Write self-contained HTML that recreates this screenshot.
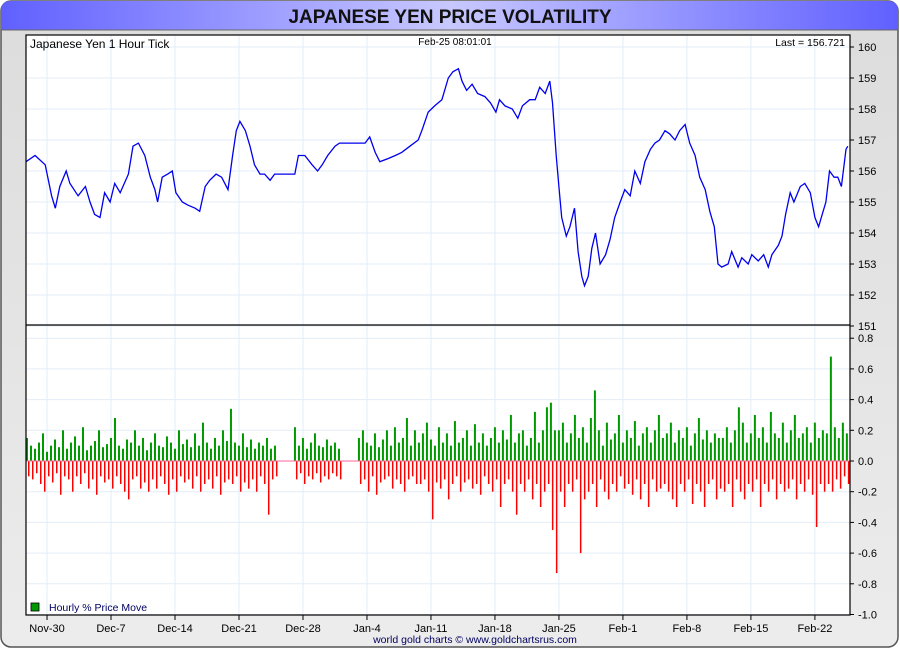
<!DOCTYPE html>
<html><head><meta charset="utf-8"><style>
body{margin:0;background:#fff;width:900px;height:650px;overflow:hidden}
svg text{font-family:"Liberation Sans",sans-serif}
</style></head><body>
<svg id="c" width="900" height="650">
<defs>
<linearGradient id="tg" x1="0" x2="1"><stop offset="0" stop-color="#6060ff"/><stop offset="0.5" stop-color="#c8c8ff"/><stop offset="1" stop-color="#6060ff"/></linearGradient>
<linearGradient id="bg" x1="0" y1="0" x2="0" y2="1"><stop offset="0" stop-color="#dcdcdc"/><stop offset="1" stop-color="#ececec"/></linearGradient>
</defs>
<rect x="1" y="1" width="897" height="646" rx="10" fill="url(#bg)" stroke="#555" stroke-width="1.5"/>
<path d="M1 30 V11 Q1 1 11 1 H888 Q898 1 898 11 V30 Z" fill="url(#tg)"/>
<line x1="1" y1="30" x2="898" y2="30" stroke="#666"/>
<text x="450" y="23" text-anchor="middle" font-size="19" font-weight="bold" fill="#111">JAPANESE YEN PRICE VOLATILITY</text>
<rect x="26" y="35" width="824" height="580" fill="#fff"/>
<g id="grid"></g><g id="bars"></g><g id="line"></g><g id="axes"></g>
<rect x="26" y="35" width="824" height="580" fill="none" stroke="#000" stroke-width="1.2"/>
<line x1="26" y1="325" x2="850" y2="325" stroke="#000" stroke-width="1.2"/>
<text x="30" y="48" font-size="12" fill="#000">Japanese Yen 1 Hour Tick</text>
<text x="455" y="45" font-size="10" text-anchor="middle" fill="#000">Feb-25  08:01:01</text>
<text x="845" y="46" font-size="10.5" text-anchor="end" fill="#000">Last = 156.721</text>
<rect x="31" y="603" width="8" height="8" fill="#009900" stroke="#000" stroke-width="0.8"/>
<text x="49" y="611" font-size="10.5" fill="#000060">Hourly % Price Move</text>
<text x="475" y="643" font-size="10.5" text-anchor="middle" fill="#000060">world gold charts © www.goldchartsrus.com</text>
</svg>
<script>
const priceDays=[-2.3,-1.3,-0.2,0.5,0.9,1.4,2.1,2.5,3.4,4.2,4.7,5.2,5.8,6.3,6.9,7.4,8.0,8.9,9.4,10.0,10.7,11.3,11.8,12.1,12.6,13.2,13.7,14.1,14.8,15.4,16.2,16.7,17.3,17.8,18.5,19.1,19.8,20.3,20.7,21.1,21.7,22.2,22.7,23.3,23.8,24.4,24.9,25.5,27.1,27.5,28.2,29.0,29.6,30.1,30.7,31.5,32.0,33.7,34.8,35.3,35.9,36.4,37.3,38.1,38.8,39.7,40.6,41.0,41.7,42.4,43.2,43.9,44.4,45.0,45.4,45.9,46.5,47.1,47.9,48.5,49.1,49.5,50.1,50.9,51.5,52.0,52.8,53.4,53.9,54.5,55.0,55.3,55.7,56.0,56.3,56.8,57.2,57.7,58.1,58.5,58.8,59.2,59.6,60.0,60.5,61.1,61.6,62.1,62.7,63.2,63.8,64.3,64.9,65.4,66.0,66.5,67.0,67.6,68.1,68.7,69.2,69.8,70.3,70.9,71.4,72.0,72.5,73.0,73.4,73.8,74.5,74.9,75.6,76.0,76.7,77.1,77.8,78.4,78.9,79.3,80.0,80.4,80.8,81.3,81.7,82.4,82.9,83.5,84.0,84.4,84.8,85.2,85.6,86.1,86.5,86.9,87.4,87.6];
const priceVals=[156.3,156.5,156.2,155.2,154.8,155.5,156.0,155.6,155.2,155.5,155.0,154.6,154.5,155.3,155.0,155.6,155.3,155.9,156.8,156.9,156.5,155.8,155.4,155.0,155.8,155.9,156.0,155.3,155.0,154.9,154.8,154.7,155.5,155.7,155.9,155.8,155.4,156.5,157.3,157.6,157.3,156.8,156.2,155.9,155.9,155.7,155.9,155.9,155.9,156.5,156.5,156.2,156.0,156.2,156.5,156.8,156.9,156.9,156.9,157.1,156.6,156.3,156.4,156.5,156.6,156.8,157.0,157.3,157.9,158.1,158.3,159.0,159.2,159.3,158.9,158.6,158.8,158.5,158.4,158.2,157.9,158.3,158.1,158.0,157.7,158.1,158.3,158.3,158.7,158.5,158.9,158.2,156.5,155.5,154.5,153.9,154.2,154.8,153.4,152.6,152.3,152.6,153.5,154.0,153.0,153.3,153.8,154.5,155.0,155.4,155.2,156.0,155.6,156.3,156.7,156.9,157.0,157.3,157.2,157.0,157.3,157.5,156.9,156.5,155.8,155.4,154.7,154.2,153.0,152.9,153.0,153.4,152.9,153.2,153.0,153.3,153.1,153.3,152.9,153.3,153.6,153.9,154.6,155.3,155.0,155.5,155.6,155.3,154.5,154.2,154.6,155.0,156.0,155.8,155.8,155.5,156.7,156.8];
const barStartDay=-2.3, barStepDay=0.4375;
const upMoves=[.15,.1,.08,.12,.18,.06,.1,.14,.09,.2,.08,.12,.16,.1,.22,.07,.1,.13,.2,.09,.11,.15,.28,.1,.08,.14,.12,.2,.1,.15,.07,.12,.18,.1,.09,.16,.12,.08,.2,.11,.14,.09,.18,.1,.25,.12,.08,.15,.1,.2,.13,.34,.12,.1,.18,.09,.14,.08,.12,.1,.15,.08,.1,null,null,null,null,.22,.1,.15,.08,.12,.18,.1,.09,.14,.1,.12,.08,null,null,null,null,.15,.2,.12,.1,.18,.09,.14,.2,.1,.22,.12,.15,.28,.1,.2,.12,.18,.25,.14,.1,.22,.12,.18,.1,.26,.12,.15,.2,.1,.24,.12,.18,.1,.15,.22,.12,.2,.14,.3,.12,.18,.2,.1,.15,.32,.12,.2,.35,.38,.2,.2,.25,.12,.18,.3,.15,.22,.12,.28,.46,.2,.1,.25,.14,.18,.3,.12,.2,.15,.26,.1,.18,.22,.12,.2,.3,.15,.18,.25,.12,.2,.15,.22,.1,.18,.28,.14,.2,.12,.18,.15,.15,.22,.12,.2,.35,.25,.12,.18,.3,.15,.22,.12,.32,.18,.15,.25,.12,.2,.3,.15,.18,.22,.12,.25,.15,.2,.18,.68,.22,.15,.25,.18];
const downMoves=[.1,.12,.08,.15,.2,.1,.14,.08,.22,.1,.12,.2,.1,.15,.08,.18,.12,.22,.1,.14,.12,.18,.1,.15,.2,.25,.12,.1,.18,.14,.2,.12,.18,.1,.15,.22,.12,.2,.1,.14,.12,.18,.1,.2,.15,.12,.18,.1,.22,.14,.12,.15,.1,.2,.14,.18,.12,.2,.1,.15,.35,.12,.1,null,null,null,null,.12,.08,.15,.1,.12,.08,.14,.1,.12,.08,.1,.12,null,null,null,null,.15,.12,.2,.1,.22,.14,.12,.1,.18,.12,.15,.2,.12,.1,.15,.15,.12,.2,.38,.14,.18,.12,.25,.15,.1,.2,.14,.12,.18,.15,.22,.1,.15,.2,.12,.3,.15,.12,.2,.35,.15,.2,.12,.25,.15,.3,.2,.15,.45,.73,.2,.3,.15,.2,.12,.6,.25,.2,.15,.3,.12,.2,.25,.15,.2,.1,.18,.15,.22,.12,.25,.15,.3,.12,.2,.18,.15,.2,.25,.3,.15,.2,.12,.28,.15,.2,.3,.15,.12,.25,.18,.2,.15,.3,.12,.2,.25,.15,.2,.12,.3,.15,.2,.12,.25,.15,.2,.18,.12,.25,.15,.2,.12,.22,.43,.15,.2,.15,.2,.12,.18,.1,.15];
const priceTicks=[151,152,153,154,155,156,157,158,159,160];
const moveTicks=[-1.0,-0.8,-0.6,-0.4,-0.2,0.0,0.2,0.4,0.6,0.8];
const dateLabels=["Nov-30","Dec-7","Dec-14","Dec-21","Dec-28","Jan-4","Jan-11","Jan-18","Jan-25","Feb-1","Feb-8","Feb-15","Feb-22"];
const dateDays=[0,7,14,21,28,35,42,49,56,63,70,77,84];

const NS="http://www.w3.org/2000/svg";
const X0=26,X1=850,D0=-2.3,D1=87.84;
const xs=d=>X0+(d-D0)/(D1-D0)*(X1-X0);
const yp=v=>47+(160-v)*31;
const ym=v=>461-v*153.5;
function mk(tag,attrs,parent){const e=document.createElementNS(NS,tag);for(const k in attrs)e.setAttribute(k,attrs[k]);parent.appendChild(e);return e;}
const grid=document.getElementById('grid'),axes=document.getElementById('axes');
priceTicks.forEach(t=>{const y=yp(t);
 const g=mk('line',{x1:X0,x2:X1,y1:y,y2:y,stroke:'#e2edf7'},grid);
 
 mk('line',{x1:X1,x2:X1+4,y1:y,y2:y,stroke:'#000'},axes);
 const tx=mk('text',{x:858,y:y+4,'font-size':11,fill:'#000'},axes);tx.textContent=String(t);
 });
moveTicks.forEach(t=>{const y=ym(t);
 const g=mk('line',{x1:X0,x2:X1,y1:y,y2:y,stroke:'#e2edf7'},grid);
 
 mk('line',{x1:X1,x2:X1+4,y1:y,y2:y,stroke:'#000'},axes);
 const tx=mk('text',{x:858,y:y+4,'font-size':11,fill:'#000'},axes);tx.textContent=t.toFixed(1);
 });
dateDays.forEach((d,i)=>{const x=xs(d);
 const g=mk('line',{x1:x,x2:x,y1:35,y2:615,stroke:'#e2edf7'},grid);
 
 mk('line',{x1:x,x2:x,y1:615,y2:620,stroke:'#000'},axes);
 const tx=mk('text',{x:x,y:632,'font-size':11,'text-anchor':'middle',fill:'#000'},axes);tx.textContent=dateLabels[i];
 });
const bars=document.getElementById('bars');
upMoves.forEach((v,i)=>{if(v==null)return;const x=xs(barStartDay+i*barStepDay);
 const r=mk('rect',{x:x,y:ym(v),width:2,height:ym(0)-ym(v),fill:'#009900'},bars);
 });
downMoves.forEach((v,i)=>{if(v==null)return;const x=xs(barStartDay+i*barStepDay)+2;
 const r=mk('rect',{x:x,y:ym(0),width:1.5,height:ym(-v)-ym(0),fill:'#ff0000'},bars);
 });
const z=mk('line',{x1:X0,x2:X1,y1:ym(0),y2:ym(0),stroke:'#ff6699','stroke-width':1},bars);

const pts=priceDays.map((d,i)=>xs(d).toFixed(1)+','+yp(priceVals[i]).toFixed(1)).join(' ');
const pl=mk('polyline',{points:pts,fill:'none',stroke:'#0000ee','stroke-width':1.3},document.getElementById('line'));

</script>
</body></html>
